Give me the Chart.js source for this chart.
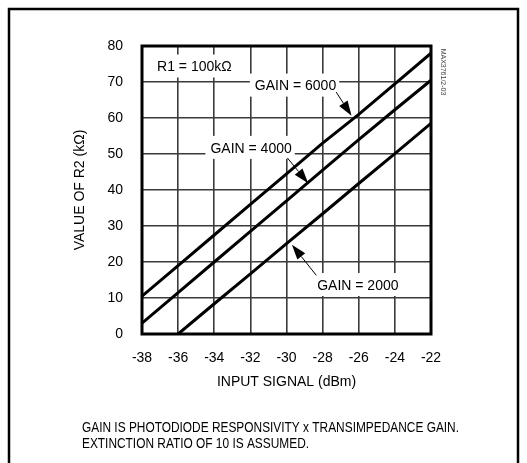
<!DOCTYPE html>
<html>
<head>
<meta charset="utf-8">
<script src="https://cdn.jsdelivr.net/npm/chart.js@4.4.0/dist/chart.umd.min.js"></script>
<style>
html,body{margin:0;padding:0;background:#fff;}
#wrap{width:527px;height:463px;}
</style>
</head>
<body>
<div id="wrap"><canvas id="graficoR2" width="527" height="463"></canvas></div>
<script>

// dados
const sinalEntrada=[-38,-36,-34,-32,-30,-28,-26,-24,-22];
const ganho6000=[10.5,19,27.5,36,44.5,53,61,69.5,78];
const ganho4000=[3,11.5,20,28.5,37,45.5,54,62.3,70.5];
const ganho2000=[null,0,8.4,16.7,25.1,33.4,41.8,50.1,58.5];

const ticksX=[-38,-36,-34,-32,-30,-28,-26,-24,-22];
const ticksY=[0,10,20,30,40,50,60,70,80];

const nomesSeries=["GAIN = 6000","GAIN = 4000","GAIN = 2000"];

const notas=[
    "GAIN IS PHOTODIODE RESPONSIVITY x TRANSIMPEDANCE GAIN.",
    "EXTINCTION RATIO OF 10 IS ASSUMED."
];

const FONTE="'Liberation Sans Narrow','Arial Narrow','Liberation Sans',Arial,sans-serif";

function pontos(valores){
    return sinalEntrada
        .map((x,i)=>({x:x,y:valores[i]}))
        .filter(p=>p.y!==null);
}

///////////////////////////////////////////////////////////////

// rotulos com seta, em coordenadas do grafico
const rotulos=[
    {texto:"R1 = 100k\u03A9", x:-35.1, y:74.3},
    {texto:nomesSeries[0], x:-29.5, y:69.0, de:[-27.25,67.2], ate:[-26.4,60.6]},
    {texto:nomesSeries[1], x:-31.96, y:51.7, de:[-29.95,48.9], ate:[-28.8,41.9]},
    {texto:nomesSeries[2], x:-26.05, y:13.6, de:[-28.35,16.3], ate:[-29.7,24.8]}
];

function seta(ctx,x1,y1,x2,y2){
    const ang=Math.atan2(y2-y1,x2-x1);
    const comp=15, larg=5;
    const bx=x2-comp*Math.cos(ang), by=y2-comp*Math.sin(ang);
    ctx.beginPath();
    ctx.moveTo(x1,y1);
    ctx.lineTo(bx,by);
    ctx.lineWidth=1;
    ctx.strokeStyle="#000";
    ctx.stroke();
    ctx.beginPath();
    ctx.moveTo(x2,y2);
    ctx.lineTo(bx+larg*Math.sin(ang),by-larg*Math.cos(ang));
    ctx.lineTo(bx-larg*Math.sin(ang),by+larg*Math.cos(ang));
    ctx.closePath();
    ctx.fillStyle="#000";
    ctx.fill();
}

const pluginRotulos={
    id:"rotulos",
    beforeDatasetsDraw(chart){
        const ctx=chart.ctx;
        const sx=chart.scales.x, sy=chart.scales.y;
        ctx.save();
        ctx.font="14px "+FONTE;
        ctx.textAlign="center";
        ctx.textBaseline="middle";
        rotulos.forEach(r=>{
            const px=sx.getPixelForValue(r.x);
            const py=sy.getPixelForValue(r.y);
            const w=ctx.measureText(r.texto).width;
            ctx.fillStyle="#fff";
            ctx.fillRect(px-w/2-5,py-12,w+8,23);
            ctx.fillStyle="#000";
            ctx.fillText(r.texto,px,py+1);
        });
        ctx.restore();
    },
    afterDatasetsDraw(chart){
        const ctx=chart.ctx;
        const sx=chart.scales.x, sy=chart.scales.y;
        const area=chart.chartArea;
        ctx.save();
        rotulos.forEach(r=>{
            if(!r.de) return;
            seta(ctx,
                sx.getPixelForValue(r.de[0]),sy.getPixelForValue(r.de[1]),
                sx.getPixelForValue(r.ate[0]),sy.getPixelForValue(r.ate[1]));
        });
        // moldura
        ctx.lineWidth=3;
        ctx.strokeStyle="#000";
        ctx.strokeRect(area.left,area.top,area.right-area.left,area.bottom-area.top);
        ctx.restore();
    },
    afterDraw(chart){
        const ctx=chart.ctx;
        ctx.save();
        // borda da pagina
        ctx.strokeStyle="#000";
        ctx.lineWidth=2.5;
        ctx.beginPath();
        ctx.moveTo(9,463);
        ctx.lineTo(9,9);
        ctx.lineTo(518,9);
        ctx.lineTo(518,463);
        ctx.stroke();
        // codigo da figura
        ctx.font="7px "+FONTE;
        ctx.fillStyle="#444";
        ctx.textAlign="center";
        ctx.textBaseline="middle";
        ctx.translate(443,72);
        ctx.rotate(Math.PI/2);
        ctx.fillText("MAX3761/2-03",0,0);
        ctx.restore();
        // nota de rodape, comprimida na largura do original
        ctx.save();
        ctx.font="14px "+FONTE;
        ctx.fillStyle="#000";
        ctx.textAlign="left";
        ctx.textBaseline="middle";
        const fator=377/ctx.measureText(notas[0]).width;
        ctx.translate(82,0);
        ctx.scale(Math.min(1,fator),1);
        ctx.fillText(notas[0],0,428);
        ctx.fillText(notas[1],0,444);
        ctx.restore();
    }
};

///////////////////////////////////////////////////////////////

function desenharGrafico(){

    const ctx=document
        .getElementById("graficoR2")
        .getContext("2d");

    const estiloLinha={
        borderColor:"#000",
        borderWidth:3,
        pointRadius:0,
        fill:false,
        tension:0
    };

    new Chart(ctx,{

        type:"line",

        data:{
            datasets:[
                {label:nomesSeries[0],data:pontos(ganho6000),...estiloLinha},
                {label:nomesSeries[1],data:pontos(ganho4000),...estiloLinha},
                {label:nomesSeries[2],data:pontos(ganho2000),...estiloLinha}
            ]
        },

        options:{

            responsive:false,
            animation:false,
            devicePixelRatio:1,

            layout:{
                padding:{left:64,top:46,right:96,bottom:72}
            },

            plugins:{
                legend:{display:false},
                tooltip:{enabled:false}
            },

            scales:{

                x:{
                    type:"linear",
                    min:ticksX[0],
                    max:ticksX[ticksX.length-1],
                    afterBuildTicks(scale){
                        scale.ticks=ticksX.map(v=>({value:v}));
                    },
                    afterFit(scale){
                        scale.height=57;
                    },
                    grid:{color:"#3a3a3a",lineWidth:1.6,drawTicks:false},
                    border:{display:false},
                    ticks:{
                        color:"#000",
                        padding:16,
                        maxRotation:0,
                        font:{family:FONTE,size:14}
                    },
                    title:{
                        display:true,
                        text:"INPUT SIGNAL (dBm)",
                        color:"#000",
                        padding:{top:0,bottom:0},
                        font:{family:FONTE,size:14}
                    }
                },

                y:{
                    min:ticksY[0],
                    max:ticksY[ticksY.length-1],
                    afterBuildTicks(scale){
                        scale.ticks=ticksY.map(v=>({value:v}));
                    },
                    afterFit(scale){
                        scale.width=78;
                    },
                    grid:{color:"#3a3a3a",lineWidth:1.6,drawTicks:false},
                    border:{display:false},
                    ticks:{
                        color:"#000",
                        padding:19,
                        font:{family:FONTE,size:14}
                    },
                    title:{
                        display:true,
                        text:"VALUE OF R2 (k\u03A9)",
                        color:"#000",
                        padding:{top:8,bottom:0},
                        font:{family:FONTE,size:14}
                    }
                }

            }

        },

        plugins:[pluginRotulos]

    });

}

desenharGrafico();

</script>
</body>
</html>
